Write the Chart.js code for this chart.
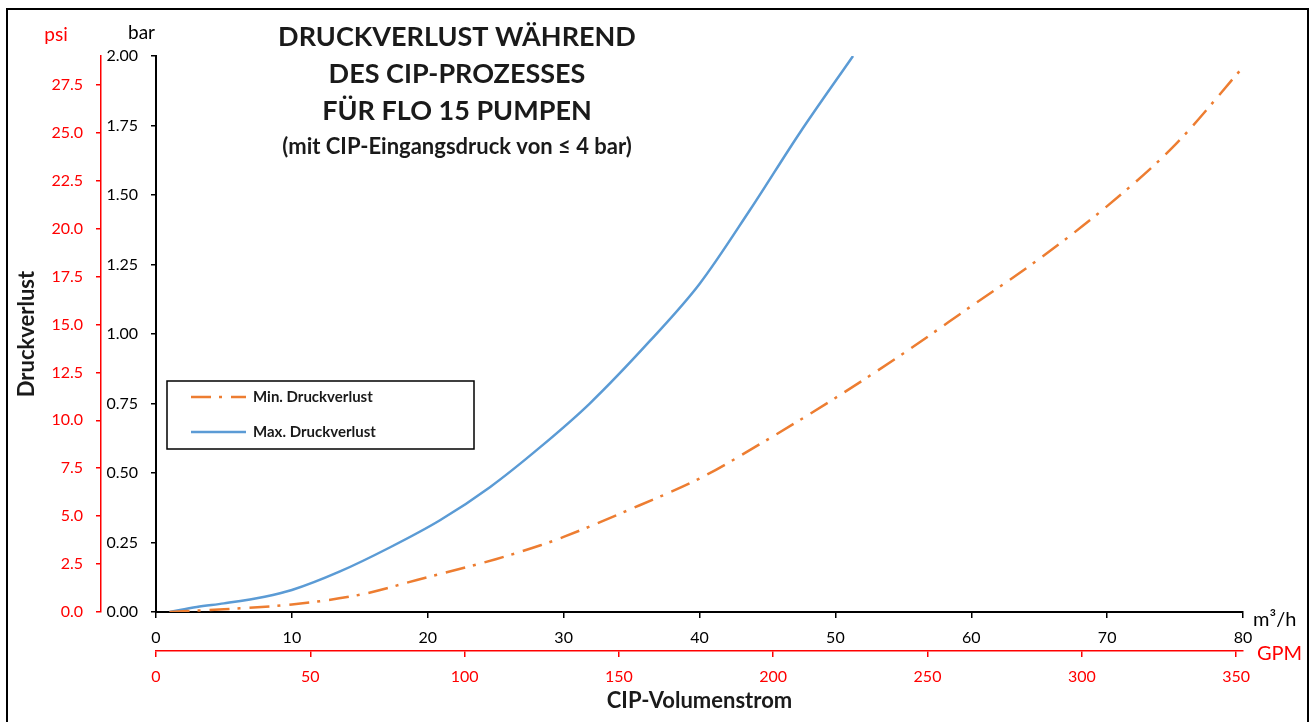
<!DOCTYPE html>
<html>
<head>
<meta charset="utf-8">
<script src="https://cdn.jsdelivr.net/npm/chart.js@4.4.0/dist/chart.umd.min.js"></script>
<style>
  body { margin: 0; background: #fff; }
  #caixa { width: 1314px; height: 722px; position: relative; }
</style>
</head>
<body>
<div id="caixa"><canvas id="grafico"></canvas></div>
<script>
// Volumenstrom (m³/h) und Druckverlust (bar)
var durchflussMin = [1, 5, 10, 15, 19.2, 25, 28.3, 30, 35.6, 40, 45, 50, 55, 60, 65, 70, 75, 80];
var verlustMin = [0, 0.01, 0.027, 0.062, 0.115, 0.19, 0.24, 0.27, 0.384, 0.48, 0.62, 0.77, 0.93, 1.10, 1.27, 1.46, 1.68, 1.96];
var durchflussMax = [1, 3, 5, 8, 10, 13.5, 17.2, 20.9, 24.6, 28.3, 31.9, 36.35, 40, 43.7, 47.4, 51.3];
var verlustMax = [0, 0.018, 0.031, 0.055, 0.079, 0.145, 0.232, 0.33, 0.45, 0.594, 0.749, 0.975, 1.18, 1.445, 1.725, 2.0];

var nomesSeries = ['Min. Druckverlust', 'Max. Druckverlust'];
var tituloLinhas = ['DRUCKVERLUST WÄHREND', 'DES CIP-PROZESSES', 'FÜR FLO 15 PUMPEN'];
var subtitulo = '(mit CIP-Eingangsdruck von ≤ 4 bar)';

// Achsenbereiche und Teilstriche
var barMax = 2;
var psiPorBar = 14.5038;
var m3hMax = 80;
var gpmPorM3h = 4.40287;
var ticksBar = [0, 0.25, 0.5, 0.75, 1, 1.25, 1.5, 1.75, 2];
var ticksPsi = [0, 2.5, 5, 7.5, 10, 12.5, 15, 17.5, 20, 22.5, 25, 27.5];
var ticksM3h = [0, 10, 20, 30, 40, 50, 60, 70, 80];
var ticksGpm = [0, 50, 100, 150, 200, 250, 300, 350];

var fonte = 'Lato';
var vermelho = '#FF0000';
var texto = '#1a1a1a';

function pontos(xs, ys) {
    var lista = [];
    for (let i = 0; i < xs.length; i++) {
        lista.push({ x: xs[i], y: ys[i] });
    }
    return lista;
}

function fixarTicks(valores) {
    return function (s) {
        s.ticks = valores.map(function (v) { return { value: v }; });
    };
}

// Rahmen, Titel, Einheiten und Legende
const enfeites = {
    id: 'enfeites',
    afterDraw(chart) {
        const ctx = chart.ctx;
        const area = chart.chartArea;
        ctx.save();

        ctx.strokeStyle = '#000';
        ctx.lineWidth = 2;
        ctx.strokeRect(7, 9, 1301, 730);

        ctx.fillStyle = texto;
        ctx.textAlign = 'center';
        ctx.textBaseline = 'middle';
        ctx.font = 'bold 27px ' + fonte;
        for (let i = 0; i < tituloLinhas.length; i++) {
            ctx.fillText(tituloLinhas[i], 457, 37 + i * 37);
        }
        ctx.font = 'bold 22px ' + fonte;
        ctx.fillText(subtitulo, 457, 147);

        // Einheiten an den Achsen
        ctx.textAlign = 'left';
        ctx.font = '20px ' + fonte;
        ctx.fillStyle = '#000';
        ctx.fillText('m³/h', area.right + 10, chart.scales.x.top + 8);
        ctx.fillStyle = vermelho;
        ctx.fillText('GPM', area.right + 14, chart.scales.x2.top + 3);
        ctx.font = '19px ' + fonte;
        ctx.textAlign = 'right';
        ctx.fillStyle = '#000';
        ctx.fillText('bar', area.left - 1, 33);
        ctx.textAlign = 'center';
        ctx.fillStyle = vermelho;
        ctx.fillText('psi', 56, 35);

        // Legende
        ctx.strokeStyle = '#000';
        ctx.lineWidth = 1.5;
        ctx.strokeRect(167, 381, 307, 68);
        ctx.textAlign = 'left';
        ctx.font = 'bold 15px ' + fonte;
        const ds = chart.data.datasets;
        for (let i = 0; i < ds.length; i++) {
            const y = 397 + i * 35;
            ctx.strokeStyle = ds[i].borderColor;
            ctx.lineWidth = ds[i].borderWidth;
            ctx.setLineDash(ds[i].borderDash || []);
            ctx.beginPath();
            ctx.moveTo(191, y);
            ctx.lineTo(246, y);
            ctx.stroke();
            ctx.setLineDash([]);
            ctx.fillStyle = texto;
            ctx.fillText(ds[i].label, 253, y);
        }
        ctx.restore();
    }
};

const data = {
    datasets: [{
        label: nomesSeries[0],
        data: pontos(durchflussMin, verlustMin),
        borderColor: '#ED7D31',
        borderWidth: 2.5,
        borderDash: [20, 8, 3, 9],
        pointRadius: 0,
        cubicInterpolationMode: 'monotone',
        xAxisID: 'x',
        yAxisID: 'y'
    }, {
        label: nomesSeries[1],
        data: pontos(durchflussMax, verlustMax),
        borderColor: '#5B9BD5',
        borderWidth: 2.5,
        pointRadius: 0,
        cubicInterpolationMode: 'monotone',
        xAxisID: 'x',
        yAxisID: 'y'
    }]
};

const config = {
    type: 'line',
    data: data,
    options: {
        responsive: true,
        maintainAspectRatio: false,
        animation: false,
        layout: { padding: { left: 14, top: 56, right: 71, bottom: 5 } },
        plugins: {
            legend: { display: false },
            tooltip: { enabled: false }
        },
        scales: {
            x: {
                type: 'linear',
                position: 'bottom',
                weight: 0,
                min: 0,
                max: m3hMax,
                afterBuildTicks: fixarTicks(ticksM3h),
                ticks: { color: '#000', font: { family: fonte, size: 16 }, padding: 10, maxRotation: 0, autoSkip: false },
                grid: { drawOnChartArea: false, tickLength: 6, color: '#000', lineWidth: 1.5 },
                border: { color: '#000', width: 2 },
                afterFit: function (s) { s.height = 39; }
            },
            x2: {
                type: 'linear',
                position: 'bottom',
                weight: 1,
                min: 0,
                max: m3hMax * gpmPorM3h,
                afterBuildTicks: fixarTicks(ticksGpm),
                ticks: { color: vermelho, font: { family: fonte, size: 16 }, padding: 10, maxRotation: 0, autoSkip: false },
                grid: { drawOnChartArea: false, tickLength: 6, color: vermelho, lineWidth: 1.5 },
                border: { color: vermelho, width: 1.5 },
                title: { display: true, text: 'CIP-Volumenstrom', color: texto, font: { family: fonte, size: 22, weight: 'bold' }, padding: { top: 0, bottom: 3 } },
                afterFit: function (s) { s.height = 66; }
            },
            y: {
                type: 'linear',
                position: 'left',
                weight: 0,
                min: 0,
                max: barMax,
                afterBuildTicks: fixarTicks(ticksBar),
                ticks: { color: '#000', font: { family: fonte, size: 16 }, padding: 13, autoSkip: false,
                    callback: function (v) { return v.toFixed(2); } },
                grid: { drawOnChartArea: false, tickLength: 5, color: '#000', lineWidth: 1.5 },
                border: { color: '#000', width: 2 },
                afterFit: function (s) { s.width = 55; }
            },
            y2: {
                type: 'linear',
                position: 'left',
                weight: 1,
                min: 0,
                max: barMax * psiPorBar,
                afterBuildTicks: fixarTicks(ticksPsi),
                ticks: { color: vermelho, font: { family: fonte, size: 16 }, padding: 13, autoSkip: false,
                    callback: function (v) { return v.toFixed(1); } },
                grid: { drawOnChartArea: false, tickLength: 5, color: vermelho, lineWidth: 1.5 },
                border: { color: vermelho, width: 1.5 },
                title: { display: true, text: 'Druckverlust', color: texto, font: { family: fonte, size: 22, weight: 'bold' }, padding: 0 },
                afterFit: function (s) { s.width = 87; }
            }
        }
    },
    plugins: [enfeites]
};

const grafico = new Chart(document.getElementById('grafico'), config);
</script>
</body>
</html>
